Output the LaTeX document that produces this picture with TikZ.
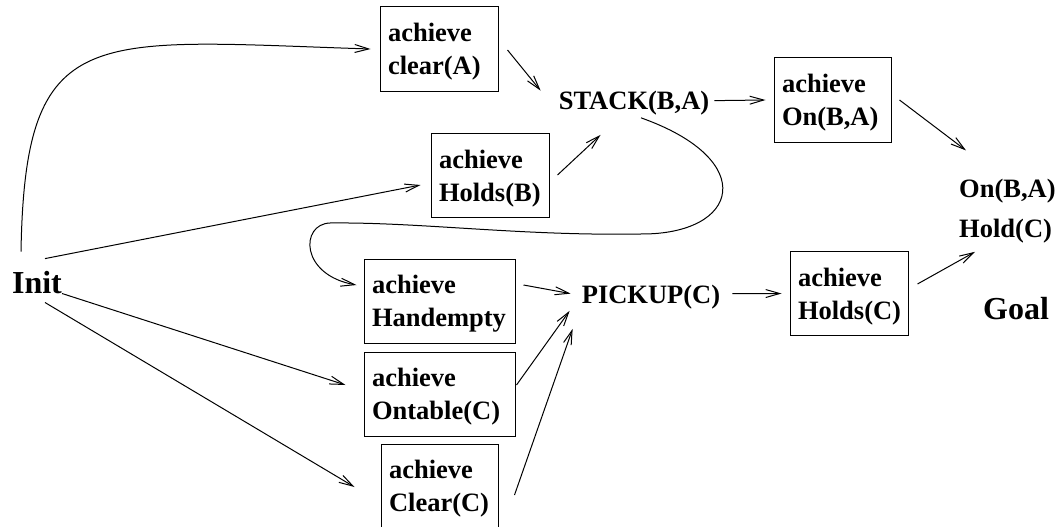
\documentclass[tikz,border=0pt]{standalone}
\usepackage{fontspec}
\setmainfont{Liberation Serif}
\usetikzlibrary{arrows.meta}

\tikzset{
  meta/.style={draw, line width=1pt, align=left, inner xsep=8pt,
    minimum height=84pt, font=\fontsize{26.5}{33}\selectfont\bfseries},
  etiq/.style={inner sep=0pt, anchor=base,
    font=\fontsize{26.5}{33}\selectfont\bfseries},
  grande/.style={inner sep=0pt, anchor=base,
    font=\fontsize{32}{38}\selectfont\bfseries},
  flecha/.style={line width=1pt, -{Straight Barb[length=14pt,width=8pt]}}
}

\begin{document}
\begin{tikzpicture}[x=1pt, y=-1pt]
    \useasboundingbox (0,0) rectangle (1063,527);

    % Cajas achieve
    \foreach \nombre/\x/\y/\ancho/\texto in {
      ca/439/49/102/clear(A),
      hb/490/175.5/102/Holds(B),
      he/439.5/301/135/Handempty,
      ot/439.5/394/135/Ontable(C),
      cc/439.5/486/101/Clear(C),
      on/832.5/100/101/{On(B,A)},
      hc/849/293.5/102/Holds(C)
    } {
      \node[meta, text width=\ancho pt] (\nombre) at (\x,\y)
        {\rule{0pt}{24pt}achieve\\\texto};
    }

    % Acciones y estados
    \node[etiq] (stack) at (634,110) {STACK(B,A)};
    \node[etiq] (pickup) at (651,303) {PICKUP(C)};
    \node[grande] (init) at (37,293) {Init};
    \node[grande] (goal) at (1016,319) {Goal};
    \node[etiq, anchor=base west] (ong) at (959,197) {On(B,A)};
    \node[etiq, anchor=base west] (holdg) at (959,237) {Hold(C)};

    % Desde Init
    \draw[flecha] ([xshift=-16pt,yshift=19pt]init.north)
      .. controls (25,20) and (90,40) .. ([xshift=-9pt]ca.west);
    \draw[flecha] ([xshift=8pt,yshift=12pt]init.north) -- ([xshift=-10pt,yshift=-9.5pt]hb.west);
    \draw[flecha] (init.south east) -- ([xshift=-18pt,yshift=9pt]ot.west);
    \draw[flecha] ([xshift=8pt,yshift=-9pt]init.south) -- ([xshift=-26pt,yshift=-1pt]cc.west);

    % Hacia STACK(B,A)
    \draw[flecha] ([xshift=9pt,yshift=-1pt]ca.east) -- ([xshift=-18pt,yshift=13pt]stack.west);
    \draw[flecha] ([xshift=8pt,yshift=0.5pt]hb.east) -- ([xshift=42pt,yshift=-19pt]stack.south west);
    \draw[flecha] ([xshift=5pt,yshift=3pt]stack.east) -- ([xshift=-8pt]on.west);
    \draw[flecha] ([xshift=8pt]on.east) -- ([xshift=7pt,yshift=28pt]ong.north west);

    % Curva de STACK a Handempty
    \draw[flecha] ([xshift=7pt,yshift=-2pt]stack.south)
      .. controls (760,160) and (740,235) .. (640,234)
      .. controls (520,236) and (420,222) .. (330,223)
      .. controls (300,224) and (300,275) .. ([xshift=-7pt,yshift=16pt]he.west);

    % Hacia PICKUP(C)
    \draw[flecha] ([xshift=8pt,yshift=16pt]he.east) -- ([xshift=-11pt,yshift=3pt]pickup.west);
    \draw[flecha] ([xshift=1pt,yshift=9pt]ot.east) -- ([xshift=-12pt,yshift=-2pt]pickup.south west);
    \draw[flecha] ([xshift=16pt,yshift=-9pt]cc.east) -- ([xshift=-9pt,yshift=-20pt]pickup.south west);
    \draw[flecha] ([xshift=12pt,yshift=3pt]pickup.east) -- ([xshift=-8pt]hc.west);
    \draw[flecha] ([xshift=9pt,yshift=9.5pt]hc.east) -- ([xshift=16pt,yshift=-9pt]holdg.south west);
  \end{tikzpicture}
\end{document}
